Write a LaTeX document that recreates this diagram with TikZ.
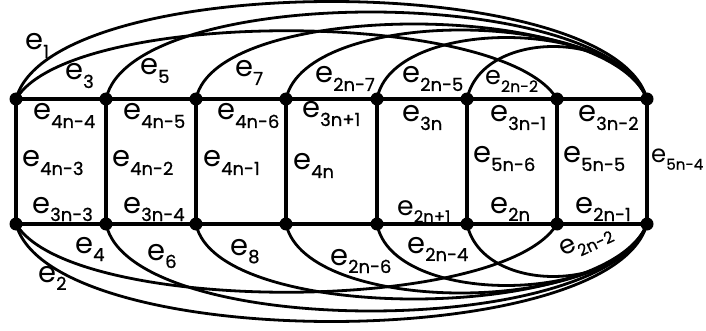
\documentclass[tikz,border=0pt]{standalone}
\usepackage{fontspec}
\setmainfont{Poppins}
\newfontfamily\subf{Poppins}[FakeBold=0.8]
\newcommand{\elab}[1]{e\raisebox{-8pt}{\subf\fontsize{18}{18}\selectfont #1}}
\begin{document}
\begin{tikzpicture}[x=1pt,y=-1pt,
  vtx/.style={circle,fill=black,inner sep=0pt,minimum size=13pt},
  edge/.style={line width=3.2pt},
  arc/.style={line width=2.8pt},
  lab/.style={anchor=base west,inner sep=0pt,font=\fontsize{29}{29}\selectfont}]
\useasboundingbox (0,0) rectangle (706,331);
\foreach \i/\x in {1/16,2/106,3/196,4/286,5/377,6/467,7/557,8/647}{
  \node[vtx] (u\i) at (\x,99) {};
  \node[vtx] (w\i) at (\x,224) {};
}
\draw[edge] (u1.center) -- (u8.center);
\draw[edge] (w1.center) -- (w8.center);
\foreach \i in {1,...,8} \draw[edge] (u\i.center) -- (w\i.center);
% top arcs
\draw[arc] (u1.center) .. controls +(35,-130) and +(-35,-130) .. (u8.center);
\draw[arc] (u1.center) .. controls +(55,-91) and +(-55,-91) .. (u7.center);
\draw[arc] (u2.center) .. controls +(25,-116) and +(-40,-116) .. (u8.center);
\draw[arc] (u3.center) .. controls +(20,-100) and +(-40,-100) .. (u8.center);
\draw[arc] (u4.center) .. controls +(20,-92) and +(-35,-92) .. (u8.center);
\draw[arc] (u5.center) .. controls +(15,-82) and +(-30,-82) .. (u8.center);
\draw[arc] (u6.center) .. controls +(15,-70) and +(-25,-70) .. (u8.center);
% bottom arcs
\draw[arc] (w1.center) .. controls +(35,130) and +(-35,130) .. (w8.center);
\draw[arc] (w1.center) .. controls +(55,91) and +(-55,91) .. (w7.center);
\draw[arc] (w2.center) .. controls +(25,116) and +(-40,116) .. (w8.center);
\draw[arc] (w3.center) .. controls +(20,100) and +(-40,100) .. (w8.center);
\draw[arc] (w4.center) .. controls +(20,92) and +(-35,92) .. (w8.center);
\draw[arc] (w5.center) .. controls +(15,82) and +(-30,82) .. (w8.center);
\draw[arc] (w6.center) .. controls +(15,70) and +(-25,70) .. (w8.center);
% labels
\node[lab] (l1) at (25,50) {\elab{1}};
\node[lab] (l3) at (65,80) {\elab{3}};
\node[lab] (l5) at (140,75) {\elab{5}};
\node[lab] (l7) at (235,77) {\elab{7}};
\node[lab] (l2n7) at (315,83) {\elab{2n-7}};
\node[lab] (l2n5) at (402,83) {\elab{2n-5}};
\node[lab,scale=0.88] (l2n2t) at (485,85) {\elab{2n-2}};
\node[lab] (l4n4) at (33,120) {\elab{4n-4}};
\node[lab] (l4n5) at (123,120) {\elab{4n-5}};
\node[lab] (l4n6) at (217,120) {\elab{4n-6}};
\node[lab] (l3n1p) at (302,118) {\elab{3n+1}};
\node[lab] (l3n) at (402,122) {\elab{3n}};
\node[lab] (l3n1) at (490,122) {\elab{3n-1}};
\node[lab] (l3n2) at (578,122) {\elab{3n-2}};
\node[lab] (l4n3) at (22,167) {\elab{4n-3}};
\node[lab] (l4n2) at (112,167) {\elab{4n-2}};
\node[lab] (l4n1) at (203,167) {\elab{4n-1}};
\node[lab] (l4n) at (293,170) {\elab{4n}};
\node[lab] (l5n6) at (473,163) {\elab{5n-6}};
\node[lab] (l5n5) at (563,163) {\elab{5n-5}};
\node[lab,scale=0.84] (l5n4) at (651,163) {\elab{5n-4}};
\node[lab] (l3n3) at (32,213) {\elab{3n-3}};
\node[lab] (l3n4) at (123,213) {\elab{3n-4}};
\node[lab,scale=0.92] (l2n1p) at (397,215) {\elab{2n+1}};
\node[lab] (l2n) at (490,213) {\elab{2n}};
\node[lab] (l2n1) at (575,213) {\elab{2n-1}};
\node[lab] (l4) at (75,253) {\elab{4}};
\node[lab] (l2) at (38,282) {\elab{2}};
\node[lab] (l6) at (147,260) {\elab{6}};
\node[lab] (l8) at (230,255) {\elab{8}};
\node[lab] (l2n6) at (330,265) {\elab{2n-6}};
\node[lab] (l2n4) at (407,253) {\elab{2n-4}};
\node[lab,rotate=25,scale=0.9] (l2n2b) at (563,257) {\elab{2n-2}};
\end{tikzpicture}
\end{document}
